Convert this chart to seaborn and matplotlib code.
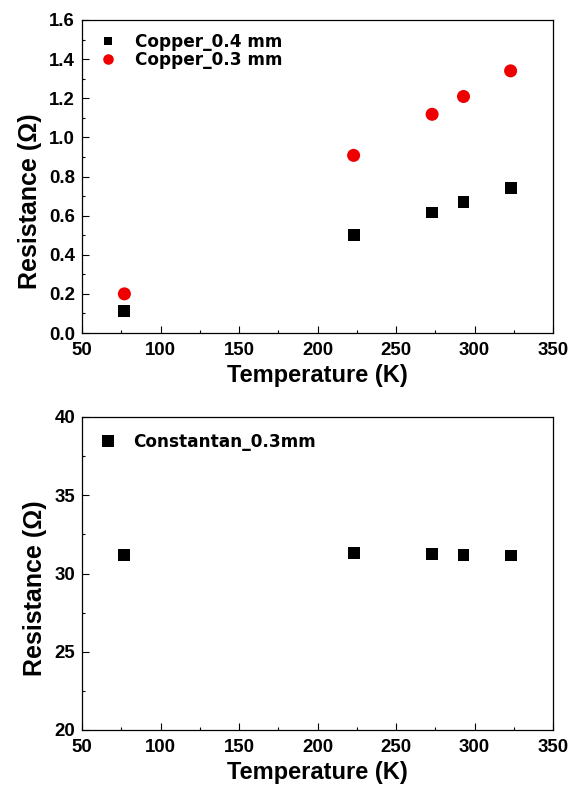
import numpy as np
import pandas as pd
import matplotlib
matplotlib.use("Agg")
import matplotlib.pyplot as plt
from matplotlib.ticker import MultipleLocator
import seaborn as sns

# Measured resistance vs temperature
temperature = [77, 223, 273, 293, 323]
copper_04 = [0.111, 0.500, 0.616, 0.668, 0.740]
copper_03 = [0.200, 0.908, 1.118, 1.209, 1.340]
constantan_03 = [31.17, 31.32, 31.23, 31.21, 31.15]

copper_labels = ["Copper_0.4 mm", "Copper_0.3 mm"]
constantan_label = "Constantan_0.3mm"

sns.set_style("ticks")
plt.rcParams["font.family"] = ["Liberation Sans", "DejaVu Sans"]
plt.rcParams["font.weight"] = "bold"
plt.rcParams["axes.labelweight"] = "bold"
for key in ("text.color", "axes.labelcolor", "xtick.color", "ytick.color",
            "axes.edgecolor"):
    plt.rcParams[key] = "black"

copper_df = pd.DataFrame({
    "T": temperature * 2,
    "R": copper_04 + copper_03,
    "wire": [copper_labels[0]] * 5 + [copper_labels[1]] * 5,
})
const_df = pd.DataFrame({"T": temperature, "R": constantan_03,
                         "wire": [constantan_label] * 5})

W, H = 580, 786
fig = plt.figure(figsize=(W / 100, H / 100), dpi=100)
ax1 = fig.add_axes([82 / W, 1 - 333 / H, 471 / W, 313 / H])
ax2 = fig.add_axes([82 / W, 1 - 730 / H, 471 / W, 313 / H])

sns.scatterplot(data=copper_df, x="T", y="R", hue="wire", style="wire",
                size="wire",
                palette={copper_labels[0]: "black", copper_labels[1]: "#ee0000"},
                markers={copper_labels[0]: "s", copper_labels[1]: "o"},
                sizes={copper_labels[0]: 74, copper_labels[1]: 88},
                linewidth=0, ax=ax1)
sns.scatterplot(data=const_df, x="T", y="R", hue="wire", style="wire",
                palette={constantan_label: "black"},
                markers={constantan_label: "s"},
                s=74, linewidth=0, ax=ax2)


def style_axes(ax, ylim, ymajor, yminor, yfmt, label_y, leg_anchor,
               leg_pad, leg_sizes):
    ax.set_xlim(50, 350)
    ax.set_ylim(*ylim)
    ax.xaxis.set_major_locator(MultipleLocator(50))
    ax.xaxis.set_minor_locator(MultipleLocator(25))
    ax.yaxis.set_major_locator(MultipleLocator(ymajor))
    ax.yaxis.set_minor_locator(MultipleLocator(yminor))
    ax.yaxis.set_major_formatter(yfmt)
    ax.tick_params(which="both", direction="in", top=False, right=False,
                   labelsize=13.4, width=0.8, colors="black")
    ax.tick_params(which="major", length=4.7)
    ax.tick_params(which="minor", length=2.4)
    ax.tick_params(axis="x", which="major", pad=6.3)
    ax.tick_params(axis="y", which="major", pad=5)
    for lbl in ax.get_xticklabels() + ax.get_yticklabels():
        lbl.set_fontweight("bold")
    for sp in ax.spines.values():
        sp.set_visible(True)
        sp.set_linewidth(0.9)
        sp.set_color("black")
    ax.set_xlabel("Temperature (K)", fontsize=17, fontweight="bold", labelpad=4)
    ax.set_ylabel("Resistance (Ω)", fontsize=18, fontweight="bold",
                  labelpad=5, y=label_y)
    leg = ax.legend(loc="upper left", bbox_to_anchor=leg_anchor,
                    frameon=False, borderaxespad=0, borderpad=0,
                    handlelength=1.0, handletextpad=leg_pad, labelspacing=0.0,
                    prop={"family": "DejaVu Sans", "weight": "bold",
                          "size": 12.2})
    for h, ms in zip(leg.legend_handles, leg_sizes):
        h.set_markersize(ms)
        h.set_markeredgewidth(0)


style_axes(ax1, (0, 1.6), 0.2, 0.1, "{x:.1f}", 0.42, (0.037, 0.958),
           1.09, [5.6, 7.6])
style_axes(ax2, (20, 40), 5, 2.5, "{x:.0f}", 0.454, (0.037, 0.949),
           0.98, [8.4])

fig.savefig("out.png", dpi=100)
